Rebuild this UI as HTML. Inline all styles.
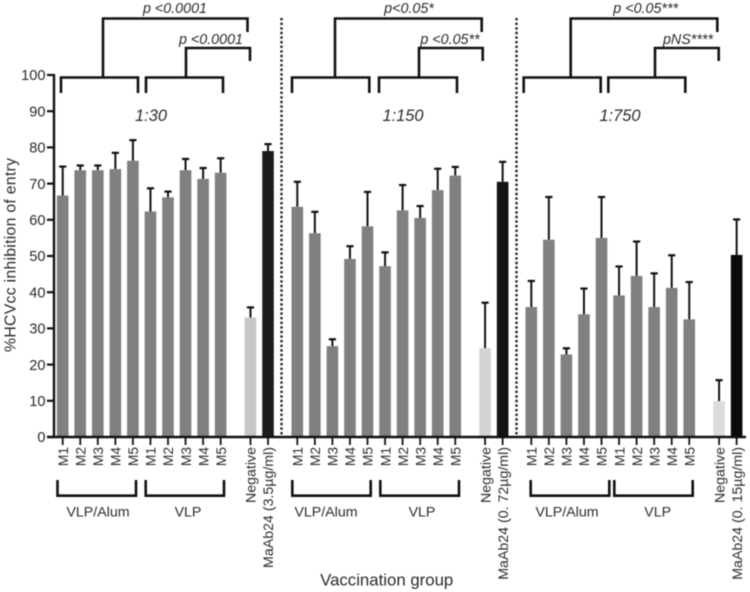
<!DOCTYPE html>
<html lang="en">
<head>
<meta charset="utf-8">
<title>HCVcc inhibition of entry by vaccination group</title>
<style>
html,body{margin:0;padding:0;background:#fff;width:750px;height:592px;overflow:hidden}
svg{display:block;filter:blur(0.4px)}
text{font-family:"Liberation Sans",Arial,sans-serif;fill:#2b2b2b}
.stat{font-size:14.3px;font-style:italic;text-anchor:middle}
.dil{font-size:16.4px;font-style:italic;text-anchor:middle}
.grp{font-size:14.2px;text-anchor:middle}
.br{fill:none;stroke:#111;stroke-width:2.6}
.div{stroke:#222;stroke-width:2.4;stroke-dasharray:2.4 2.2}
</style>
</head>
<body>
<svg id="chart" xmlns="http://www.w3.org/2000/svg" width="750" height="592" viewBox="0 0 750 592">
  <rect x="0" y="0" width="750" height="592" fill="#fff"/>

  <line class="div" x1="281.5" y1="18" x2="281.5" y2="436"/>
  <line class="div" x1="516.5" y1="18" x2="516.5" y2="436"/>

  <g>
    <path class="br" d="M61 93V77.5H138V93"/>
    <path class="br" d="M146 93V77.5H223V93"/>
    <path class="br" d="M103 77V18.5H247.5V32"/>
    <path class="br" d="M186 77V48H250V61"/>
  </g>
  <g>
    <path class="br" d="M292 93V77.5H369.3V93"/>
    <path class="br" d="M379 93V77.5H457V93"/>
    <path class="br" d="M335 77V18.5H481.7V32"/>
    <path class="br" d="M419 77V48H482.7V61"/>
  </g>
  <g>
    <path class="br" d="M523.7 93V77.5H600.7V93"/>
    <path class="br" d="M608.3 93V77.5H685.3V93"/>
    <path class="br" d="M570.7 77V18.5H717.3V32"/>
    <path class="br" d="M655 77V48H718.7V61"/>
  </g>

  <text class="stat" x="175" y="13">p &lt;0.0001</text>
  <text class="stat" x="211" y="44">p &lt;0.0001</text>
  <text class="stat" x="409" y="13">p&lt;0.05*</text>
  <text class="stat" x="450" y="44">p &lt;0.05**</text>
  <text class="stat" x="645.7" y="13">p &lt;0.05***</text>
  <text class="stat" x="688" y="44">pNS****</text>

  <text class="dil" x="151" y="121">1:30</text>
  <text class="dil" x="403" y="121">1:150</text>
  <text class="dil" x="620" y="121">1:750</text>

  <g>
    <path class="br" d="M57.5 480V495.7H136V480"/>
    <path class="br" d="M145.7 480V495.7H224V480"/>
    <path class="br" d="M292.3 480V495.7H370.7V480"/>
    <path class="br" d="M380.3 480V495.7H459V480"/>
    <path class="br" d="M530.7 480V495.7H609.3V480"/>
    <path class="br" d="M614.3 480V495.7H692.7V480"/>
  </g>
  <text class="grp" x="98" y="516.5">VLP/Alum</text>
  <text class="grp" x="188" y="516.5">VLP</text>
  <text class="grp" x="326" y="516.5">VLP/Alum</text>
  <text class="grp" x="422" y="516.5">VLP</text>
  <text class="grp" x="567" y="516.5">VLP/Alum</text>
  <text class="grp" x="657.7" y="516.5">VLP</text>

  <text x="386.7" y="585.5" font-size="16.8" text-anchor="middle">Vaccination group</text>
  <text transform="translate(15.5 255) rotate(-90)" font-size="15.8" text-anchor="middle" textLength="194" lengthAdjust="spacing">%HCVcc inhibition of entry</text>
</svg>
<script>
var categories = ["M1","M2","M3","M4","M5","M1","M2","M3","M4","M5","Negative","MaAb24"];
var mabLabels = ["MaAb24 (3.5µg/ml)","MaAb24 (0. 72µg/ml)","MaAb24 (0. 15µg/ml)"];
var panelNames = ["1-30","1-150","1-750"];
var yTicks = [0,10,20,30,40,50,60,70,80,90,100];

var means130 = [66.7,73.7,73.7,74,76.3,62.3,66.2,73.7,71.3,73,33,79];
var upper130 = [74.7,75,75,78.5,82,68.7,67.8,76.8,74.3,77,35.8,80.9];
var means150 = [63.6,56.3,25.1,49.2,58.2,47.2,62.6,60.5,68.2,72.2,24.5,70.5];
var upper150 = [70.5,62.2,27,52.7,67.7,51,69.6,63.8,74.1,74.6,37.1,76];
var means750 = [35.9,54.5,22.8,33.9,55,39.1,44.5,35.9,41.2,32.5,9.9,50.3];
var upper750 = [43.1,66.3,24.5,41,66.3,47.1,54,45.2,50.2,42.8,15.7,60.1];

var allMeans = [means130,means150,means750];
var allUpper = [upper130,upper150,upper750];

var svg = document.getElementById('chart');
var NS = 'http://www.w3.org/2000/svg';
var panelStart = [62.7,297.3,531.3];
var negColors = ['#c6c6c6','#d4d4d4','#dcdcdc'];
var mabColors = ['#1c1c1c','#141414','#0a0a0a'];

function yScale(v){ return 437 - v*3.62; }
function slot(i){ return i < 10 ? i : i + 0.7; }
function xScale(p,i){ return panelStart[p] + slot(i)*17.55; }
function make(tag,attrs,parent){
  var el = document.createElementNS(NS,tag);
  for (var k in attrs) el.setAttribute(k,attrs[k]);
  (parent||svg).appendChild(el);
  return el;
}

allMeans.forEach(function(means,p){
  var g = make('g',{});
  
  
  means.forEach(function(v,i){
    var x = xScale(p,i), yTop = yScale(v), yErr = yScale(allUpper[p][i]);
    var color = i < 10 ? '#808080' : (i === 10 ? negColors[p] : mabColors[p]);
    var line = make('line',{x1:x,x2:x,y1:yTop,y2:yErr,stroke:'#111','stroke-width':2},g);
    
    
    var cap = make('line',{x1:x-3.6,x2:x+3.6,y1:yErr,y2:yErr,stroke:'#111','stroke-width':2.2},g);
    
    
    var bar = make('rect',{x:x-5.8,y:yTop,width:11.6,height:yScale(0)-yTop,fill:color},g);
    
    
    var tick = make('line',{x1:x,x2:x,y1:437,y2:445,stroke:'#111','stroke-width':1.8});
    
    
    var labelText = i === 11 ? mabLabels[p] : categories[i];
    var lx = x + 5.2;
    var label = make('text',{transform:'translate('+lx+' 447) rotate(-90)','font-size':i < 10 ? 13.8 : 14.2,'text-anchor':'end'});
    label.textContent = labelText;
    
    
  });
});

yTicks.forEach(function(t){
  var y = yScale(t);
  var tick = make('line',{x1:47,x2:54,y1:y,y2:y,stroke:'#111','stroke-width':2.2});
  
  
  var label = make('text',{x:45.5,y:y+5.2,'font-size':14.6,'text-anchor':'end'});
  label.textContent = t;
  
  
});

var yAxis = make('line',{x1:54,x2:54,y1:74,y2:438,stroke:'#111','stroke-width':2.4});


var xAxis = make('line',{x1:47,x2:746,y1:437,y2:437,stroke:'#111','stroke-width':2.4});


</script>
</body>
</html>
